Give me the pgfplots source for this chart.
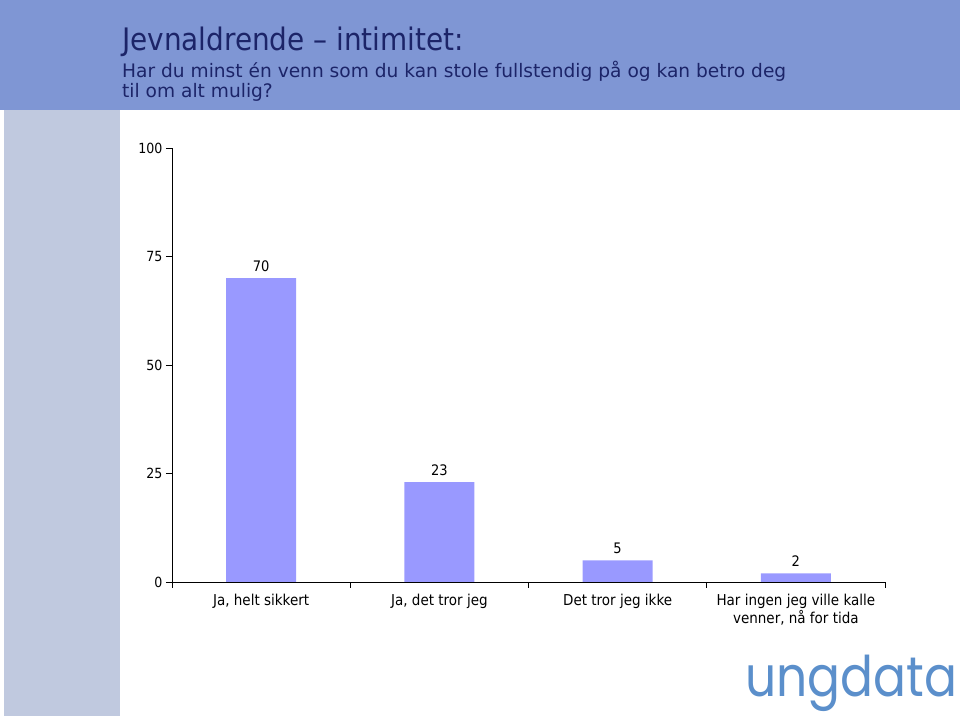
\documentclass[border=0pt]{standalone}
\usepackage{pgfplots}
\pgfplotsset{compat=1.18}
\usepackage{fontspec}
\setmainfont{DejaVu Sans Condensed}
\newfontfamily\subfont{DejaVu Sans}
\newfontfamily\logofont{Poppins}
\definecolor{hdr}{HTML}{7F96D4}
\definecolor{side}{HTML}{C0C9DF}
\definecolor{navy}{HTML}{1C2468}
\definecolor{barc}{HTML}{9999FF}
\definecolor{logoc}{HTML}{5B8FCB}
\begin{document}
\begin{tikzpicture}
\path (0bp,0bp) rectangle (960bp,716bp);
\fill[hdr] (0bp,606bp) rectangle (960bp,716bp);
\fill[side] (4bp,0bp) rectangle (120bp,606bp);
\node[anchor=base west, inner sep=0pt, text=navy, font=\fontsize{31bp}{34bp}\selectfont] at (122bp,665bp) {Jevnaldrende – intimitet:};
\node[anchor=base west, inner sep=0pt, text=navy, font=\subfont\fontsize{18.6bp}{16bp}\selectfont] at (122bp,638bp) {Har du minst én venn som du kan stole fullstendig på og kan betro deg};
\node[anchor=base west, inner sep=0pt, text=navy, font=\subfont\fontsize{18.6bp}{16bp}\selectfont] at (122bp,618bp) {til om alt mulig?};
\node[anchor=base west, inner sep=0pt, text=logoc, font=\logofont\fontsize{56bp}{60bp}\selectfont] at (745bp,20bp) {\scalebox{0.87}[1]{ungdata}};
\begin{axis}[
  at={(172bp,134bp)}, anchor=south west,
  width=713bp, height=434bp, scale only axis,
  xmin=-0.5, xmax=3.5, ymin=0, ymax=100,
  axis x line*=bottom, axis y line*=left,
  axis line style={black, line width=0.8bp},
  ytick={0,25,50,75,100},
  xtick={0,1,2,3},
  xticklabels={{Ja, helt sikkert},{Ja, det tror jeg},{Det tror jeg ikke},{Har ingen jeg ville kalle\\venner, nå for tida}},
  major x tick style={draw=none},
  minor xtick={-0.5,0.5,1.5,2.5,3.5},
  tick align=outside,
  major tick length=6bp, minor tick length=6bp,
  tick style={black, line width=0.8bp},
  /pgf/number format/assume math mode=true,
  yticklabel style={font=\fontsize{14bp}{16bp}\selectfont, black},
  xticklabel style={align=center, font=\fontsize{15bp}{18bp}\selectfont, black, yshift=-3bp},
  ybar, bar width=70bp,
  nodes near coords,
  nodes near coords style={font=\fontsize{14.5bp}{16bp}\selectfont, black, yshift=3bp},
]
\addplot[fill=barc, draw=none] coordinates {(0,70) (1,23) (2,5) (3,2)};
\end{axis}
\end{tikzpicture}
\end{document}
